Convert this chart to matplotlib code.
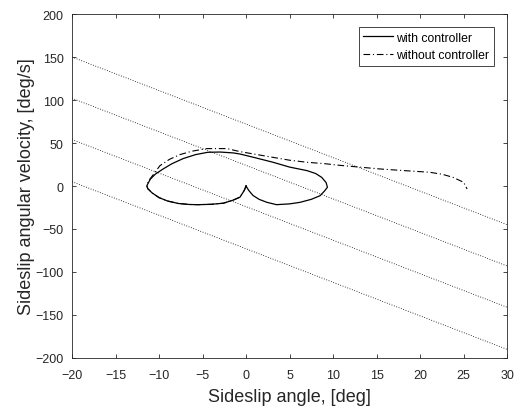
import matplotlib
matplotlib.use("Agg")
import matplotlib.pyplot as plt
import numpy as np

plt.rcParams['font.family'] = ['Liberation Sans', 'DejaVu Sans']

# Sliding-surface guide lines: r = slope * beta + c
line_slope = -3.9
line_intercepts = [72, 24, -24, -73]

# Trajectory with controller
beta_ctrl = [0, -0.2, -0.7, -1.5, -2.6, -4.0, -5.5, -6.5, -7.8, -9.0, -10.0, -10.8, -11.3, -11.4,
             -11.0, -10.4, -9.5, -8.5, -7.2, -5.8, -4.4, -3.0, -1.5, -0.7, 1.0, 3.1, 5.0, 7.0,
             8.0, 8.7, 9.2, 9.35, 9.0, 8.5, 7.5, 6.2, 5.0, 3.5, 2.4, 1.5, 0.8, 0.3, 0]
r_ctrl = [0, -5, -13, -16.5, -20, -21.3, -21.7, -21.5, -20.3, -17.5, -13.5, -8, -3, 0.4,
          8, 14, 20, 26, 32, 36.5, 39.2, 39.5, 38.5, 37.2, 33, 27.6, 22, 17.9,
          14.5, 10, 4, -1.5, -6, -11.3, -15.5, -19, -20.8, -21.7, -19, -15.5, -11, -5, 0]

# Trajectory without controller
beta_free = [0, -0.2, -0.7, -1.5, -2.6, -4.0, -5.5, -6.5, -7.8, -9.0, -10.0, -10.8, -11.3, -11.4,
             -11.2, -10.6, -9.9, -8.8, -7.6, -6.2, -4.5, -2.2, -0.7, 1.0, 3.1, 5.0, 7.0, 9.0,
             10.8, 13.0, 15.4, 18.0, 21.1, 22.6, 23.8, 25.0, 25.4]
r_free = [0, -5, -13, -16.5, -20, -21.3, -21.7, -21.5, -20.3, -17.5, -13.5, -8, -3, 0.4,
          6, 14, 23.6, 31, 36.5, 40.5, 43.5, 43.5, 40, 37, 33.3, 30, 27.6, 26,
          24, 22, 19.8, 18, 16, 13.5, 10, 4.3, -3.5]

x_ticks = [-20, -15, -10, -5, 0, 5, 10, 15, 20, 25, 30]
y_ticks = [-200, -150, -100, -50, 0, 50, 100, 150, 200]

fig = plt.figure(figsize=(5.18, 4.10), dpi=100)
ax = fig.add_axes([0.139, 0.1244, 0.840, 0.839])

xs = np.array([x_ticks[0], x_ticks[-1]], dtype=float)
for c in line_intercepts:
    ax.plot(xs, line_slope * xs + c, linestyle=(0, (1, 2)), color='k', lw=0.6)

ax.plot(beta_ctrl, r_ctrl, '-', color='k', lw=0.9, label='with controller')
ax.plot(beta_free, r_free, linestyle=(0, (6, 2.5, 1, 2.5)), color='k', lw=0.8,
        label='without controller')

ax.set_xlim(-20, 30)
ax.set_ylim(-200, 200)
ax.set_xticks(x_ticks)
ax.set_yticks(y_ticks)
ax.tick_params(direction='in', top=True, right=True, length=3, width=0.6,
               labelsize=9, colors='#262626')
ax.tick_params(axis='x', pad=8)
ax.tick_params(axis='y', pad=6)
for s in ax.spines.values():
    s.set_linewidth(0.6)
    s.set_color('#262626')

ax.set_xlabel('Sideslip angle, [deg]', fontsize=13, color='#262626', labelpad=5)
ax.set_ylabel('Sideslip angular velocity, [deg/s]', fontsize=13, color='#262626', labelpad=0)

leg = ax.legend(loc='upper right', fontsize=8.8, fancybox=False, edgecolor='#262626',
                framealpha=1, handlelength=2.45, borderaxespad=1.1, borderpad=0.35,
                labelspacing=0.45, handletextpad=0.3)
leg.get_frame().set_linewidth(0.6)

fig.savefig('out.png', dpi=100)
